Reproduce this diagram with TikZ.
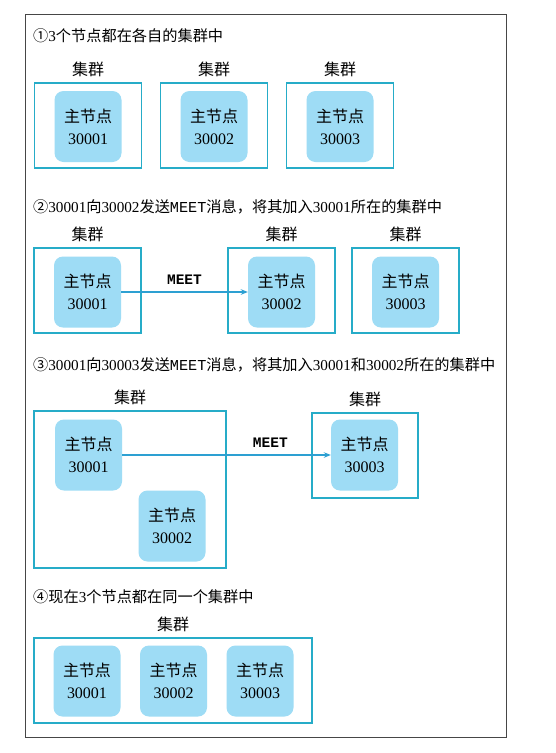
\documentclass[tikz,border=0pt]{standalone}
\usepackage{fontspec}
\setmainfont{Liberation Serif}
\setmonofont{Liberation Mono}
\newfontfamily\cjk{Noto Sans CJK SC}
\usetikzlibrary{arrows.meta,positioning}
\definecolor{clusterline}{RGB}{38,172,200}
\definecolor{masterfill}{RGB}{158,220,245}
\definecolor{meetline}{RGB}{45,160,210}
\definecolor{framegray}{RGB}{70,70,70}
\newcommand{\zh}[1]{{\cjk #1}}
\tikzset{
  every picture/.style={font=\fontsize{16}{22}\selectfont},
  cluster/.style={draw=clusterline,line width=1.4pt,minimum height=85pt,inner sep=0pt},
  master/.style={fill=masterfill,rounded corners=9pt,minimum width=67pt,minimum height=71pt,align=center,inner sep=0pt},
  clabel/.style={inner sep=0pt,above=5pt of #1},
  title/.style={anchor=west,inner sep=0pt,font=\fontsize{15.2}{18}\selectfont},
  meet/.style={draw=meetline,line width=1.2pt,-{Stealth[length=7pt,width=5.5pt]}},
  meetlabel/.style={font=\fontsize{14.5}{16}\selectfont\ttfamily\bfseries,inner sep=0pt},
}

\begin{document}
\begin{tikzpicture}[x=1pt,y=-1pt]
  \path[use as bounding box,fill=white] (0,0) rectangle (555,753);
  \draw[framegray,line width=1pt] (25,14) rectangle (506,737);

  % 1: every node in its own cluster
  \node[title] (t1) at (33,36) {\zh{①}3\zh{个节点都在各自的集群中}};
  \foreach \k/\x in {1/88,2/214,3/340}{
    \node[cluster,minimum width=107pt] (a\k) at (\x,125.5) {};
    \node[master] (am\k) at (\x,126.5) {\zh{主节点}\\3000\k};
    \node[clabel=a\k] (al\k) {\zh{集群}};
  }

  % 2: 30001 meets 30002
  \node[title] (t2) at (33,207)
    {\zh{②}30001\zh{向}30002\zh{发送}\texttt{MEET}\zh{消息，将其加入}30001\zh{所在的集群中}};
  \foreach \k/\x in {1/87.5,2/281.5,3/405.5}{
    \node[cluster,minimum width=107pt] (b\k) at (\x,290.5) {};
    \node[master] (bm\k) at (\x,292) {\zh{主节点}\\3000\k};
    \node[clabel=b\k] (bl\k) {\zh{集群}};
  }
  \draw[meet] (bm1) -- (bm2) node[meetlabel,midway,above=7pt] (bmeet) {MEET};

  % 3: 30001 meets 30003
  \node[title] (t3) at (33,365)
    {\zh{③}30001\zh{向}30003\zh{发送}\texttt{MEET}\zh{消息，将其加入}30001\zh{和}30002\zh{所在的集群中}};
  \node[cluster,minimum width=192pt,minimum height=157pt] (c1) at (130,489.5) {};
  \node[cluster,minimum width=106pt] (c2) at (365,455.5) {};
  \node[clabel=c1] (cl1) {\zh{集群}};
  \node[clabel=c2] (cl2) {\zh{集群}};
  \node[master] (cm1) at (88.5,455) {\zh{主节点}\\30001};
  \node[master] (cm2) at (172,526) {\zh{主节点}\\30002};
  \node[master] (cm3) at (364.5,455) {\zh{主节点}\\30003};
  \draw[meet] (cm1) -- (cm3) node[meetlabel,pos=0.71,above=7pt] (cmeet) {MEET};

  % 4: one cluster
  \node[title] (t4) at (33,597) {\zh{④现在}3\zh{个节点都在同一个集群中}};
  \node[cluster,minimum width=278pt] (d1) at (173,680.5) {};
  \node[clabel=d1] (dl1) {\zh{集群}};
  \foreach \k/\x in {1/87,2/173.5,3/260}
    \node[master] (dm\k) at (\x,681) {\zh{主节点}\\3000\k};
\end{tikzpicture}
\end{document}
